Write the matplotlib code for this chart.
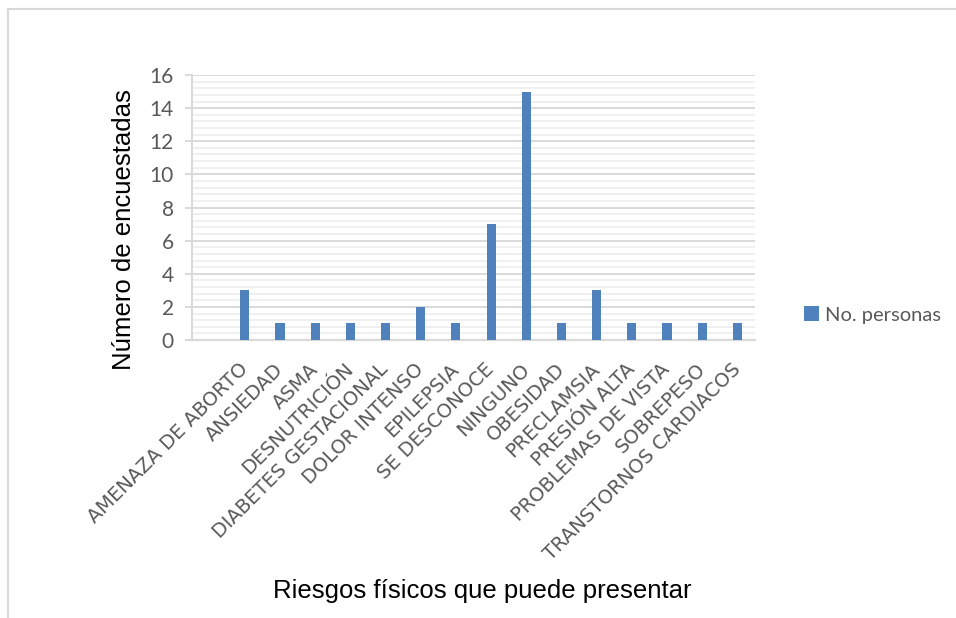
import matplotlib
matplotlib.use("Agg")
import matplotlib.pyplot as plt
from matplotlib.lines import Line2D
from matplotlib.ticker import MultipleLocator
import numpy as np

# Datos: riesgos físicos declarados por las encuestadas
categorias = [
    "AMENAZA DE ABORTO", "ANSIEDAD", "ASMA", "DESNUTRICIÓN",
    "DIABETES GESTACIONAL", "DOLOR INTENSO", "EPILEPSIA", "SE DESCONOCE",
    "NINGUNO", "OBESIDAD", "PRECLAMSIA", "PRESIÓN ALTA",
    "PROBLEMAS DE VISTA", "SOBREPESO", "TRANSTORNOS CARDIACOS",
]
personas = [3, 1, 1, 1, 1, 2, 1, 7, 15, 1, 3, 1, 1, 1, 1]

AZUL = "#4F81BD"
GRIS_TEXTO = "#595959"
GRIS_LINEA = "#D9D9D9"
GRIS_MENOR = "#F0F0F0"

fig = plt.figure(figsize=(9.56, 6.18), dpi=100)
ax = fig.add_axes([192 / 956, 1 - 340 / 618, (755 - 192) / 956, (340 - 75) / 618])

# la primera posición queda vacía, las barras empiezan en 1
x = np.arange(1, len(categorias) + 1)
ax.bar(x, personas, width=0.26, color=AZUL, zorder=3, label="No. personas")

ax.set_xlim(-0.5, len(categorias) + 0.5)
ax.set_ylim(0, 16)
ax.yaxis.set_major_locator(MultipleLocator(2))
ax.yaxis.set_minor_locator(MultipleLocator(0.4))

# Grillas
ax.grid(which="major", axis="y", color=GRIS_LINEA, linewidth=1.4, zorder=1)
ax.grid(which="minor", axis="y", color=GRIS_MENOR, linewidth=1.4, zorder=0)

for lado in ["top", "right"]:
    ax.spines[lado].set_visible(False)
ax.spines["left"].set_color(GRIS_LINEA)
ax.spines["left"].set_linewidth(1.4)
ax.spines["bottom"].set_color(GRIS_LINEA)
ax.spines["bottom"].set_linewidth(1.6)

ax.tick_params(axis="y", which="major", length=5, width=1.4, color=GRIS_LINEA,
               labelcolor=GRIS_TEXTO, labelsize=15, pad=8)
ax.tick_params(axis="y", which="minor", length=0)
for lbl in ax.get_yticklabels():
    lbl.set_family("Lato")

ax.set_xticks(x)
ax.set_xticklabels(categorias, rotation=45, ha="right", va="center",
                   rotation_mode="anchor", color=GRIS_TEXTO,
                   fontsize=14, family="DejaVu Sans")
ax.tick_params(axis="x", length=0, pad=19)

# Títulos de los ejes
fig.text(124 / 956, 1 - 230 / 618, "Número de encuestadas", rotation=90,
         ha="center", va="center", fontsize=18.5, family="Liberation Sans",
         color="black")
fig.text(482 / 956, 1 - 591 / 618, "Riesgos físicos que puede presentar",
         ha="center", va="center", fontsize=18.5, family="Liberation Sans",
         color="black")

# Leyenda a la derecha
fig.legend(loc="center left", bbox_to_anchor=(786 / 956, 1 - 315 / 618),
           frameon=False, handlelength=0.75, handleheight=0.75,
           handletextpad=0.3, prop={"family": "Lato", "size": 14.5},
           labelcolor=GRIS_TEXTO)

# Marco exterior (solo se ve arriba y a la izquierda)
fig.add_artist(Line2D([8 / 956, 1], [1 - 9 / 618, 1 - 9 / 618],
                      transform=fig.transFigure, color=GRIS_LINEA, linewidth=1.5))
fig.add_artist(Line2D([8 / 956, 8 / 956], [0, 1 - 9 / 618],
                      transform=fig.transFigure, color=GRIS_LINEA, linewidth=1.5))

fig.savefig("out.png", dpi=100)
